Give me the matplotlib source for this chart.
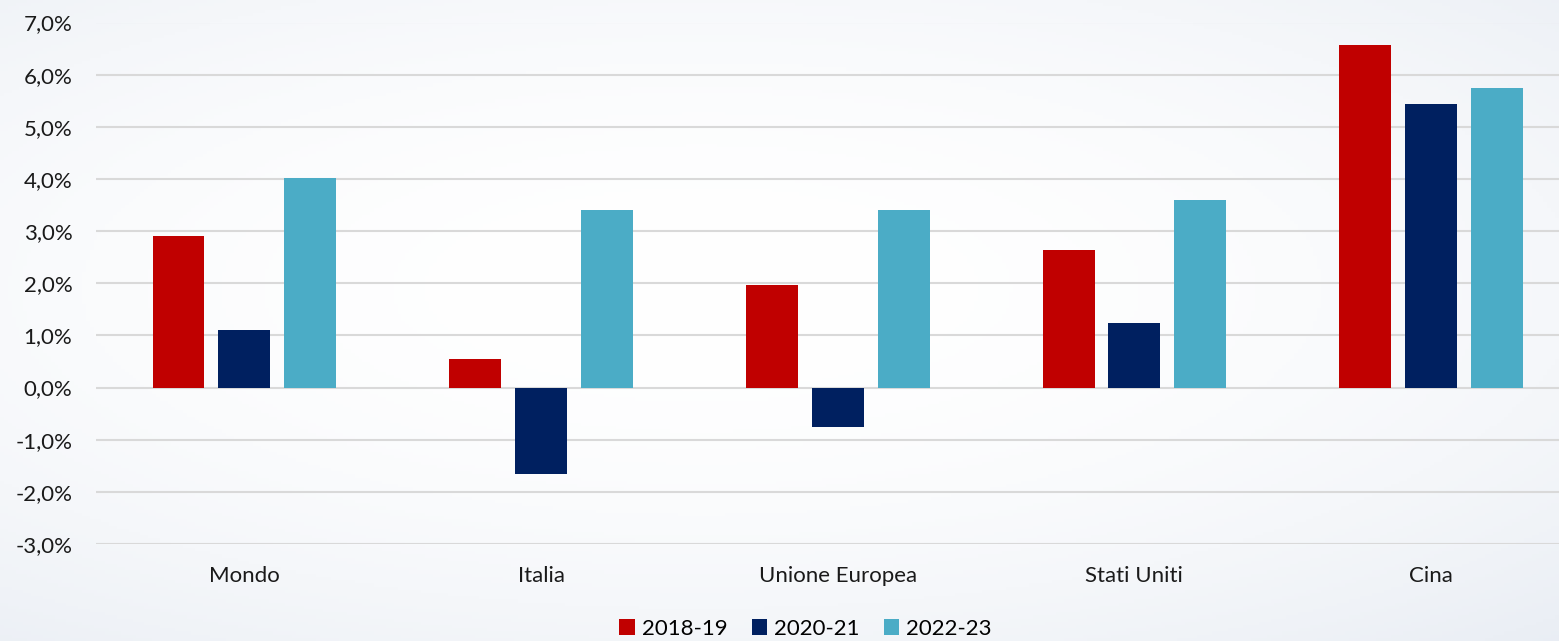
import numpy as np
import matplotlib.pyplot as plt
from matplotlib.ticker import FuncFormatter

# data (growth %)
categories = ['Mondo', 'Italia', 'Unione Europea', 'Stati Uniti', 'Cina']
series_names = ['2018-19', '2020-21', '2022-23']
v_2018_19 = [2.9, 0.55, 1.97, 2.63, 6.56]
v_2020_21 = [1.1, -1.66, -0.75, 1.24, 5.44]
v_2022_23 = [4.02, 3.4, 3.4, 3.6, 5.75]
colors = ['#C00000', '#002060', '#4BACC6']

plt.rcParams['font.family'] = ['Lato', 'DejaVu Sans']

fig = plt.figure(figsize=(15.59, 6.41), dpi=100)

# soft background gradient
bg = fig.add_axes([0, 0, 1, 1], zorder=-10)
yy, xx = np.mgrid[0:1:200j, 0:1:400j]
dist = np.sqrt(((xx - 0.45) / 0.9) ** 2 + ((yy - 0.55) / 0.8) ** 2)
shade = np.clip(dist, 0, 1) ** 2
c_edge = np.array([0.90, 0.92, 0.95])
img = 1 - shade[..., None] * (1 - c_edge)
bg.imshow(img, extent=[0, 1, 0, 1], aspect='auto', origin='lower')
bg.axis('off')

ax = fig.add_axes([96 / 1559, 97 / 641, 1 - 96 / 1559, (544 - 22.5) / 641])
ax.patch.set_alpha(0)

x = np.arange(len(categories))
width = 0.175
step = 0.222
for i, (vals, name) in enumerate(zip([v_2018_19, v_2020_21, v_2022_23], series_names)):
    ax.bar(x + (i - 1) * step, vals, width, color=colors[i], label=name, zorder=3)

ax.set_ylim(-3, 7)
ax.set_yticks(np.arange(-3, 8, 1))
ax.yaxis.set_major_formatter(FuncFormatter(lambda v, p: f'{v:.1f}%'.replace('.', ',')))
ax.set_xlim(-0.5, (1559 - 94.5) / 297 - 0.5)
ax.set_xticks(x)
ax.set_xticklabels(categories)
ax.grid(axis='y', color='#d9d9d9', linewidth=1.5, zorder=0)
for s in ax.spines.values():
    s.set_visible(False)
ax.tick_params(length=0, labelsize=16, colors='#1a1a1a')
ax.tick_params(axis='x', pad=16)
ax.tick_params(axis='y', pad=17)

leg = ax.legend(loc='center', bbox_to_anchor=(0.485, -0.163),
                ncol=3, frameon=False, fontsize=16, handlelength=0.7, handleheight=0.7,
                handletextpad=0.3, columnspacing=1.1, borderpad=0)

fig.savefig('out.png', dpi=100)
